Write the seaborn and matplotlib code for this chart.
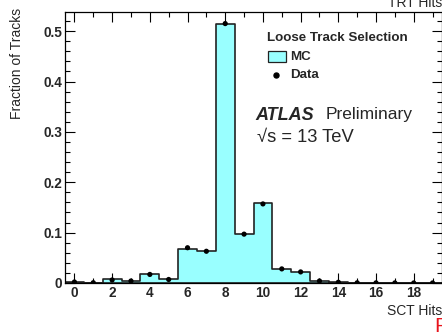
import numpy as np
import pandas as pd
import matplotlib
matplotlib.use("Agg")
import matplotlib.pyplot as plt
from matplotlib.patches import Rectangle
from matplotlib.ticker import MultipleLocator
import seaborn as sns

# Number of SCT hits per track (one bin per integer)
sct_hits = list(range(20))
# Simulated fraction of tracks in each bin
mc_fraction = [0.002, 0.0006, 0.007, 0.004, 0.017, 0.007, 0.068, 0.064, 0.514, 0.098,
               0.158, 0.028, 0.022, 0.004, 0.002, 0.0006, 0.0003, 0.0002, 0.0001, 0.0001]
# Measured fraction of tracks in each bin
data_fraction = [0.002, 0.0006, 0.006, 0.004, 0.017, 0.007, 0.070, 0.063, 0.515, 0.097,
                 0.157, 0.028, 0.022, 0.004, 0.0015, 0.0004, 0.0003, 0.0002, 0.0001, 0.0001]

x_ticks = [0, 2, 4, 6, 8, 10, 12, 14, 16, 18]
y_ticks = [0, 0.1, 0.2, 0.3, 0.4, 0.5]
y_tick_labels = ["0", "0.1", "0.2", "0.3", "0.4", "0.5"]

df = pd.DataFrame({"hits": sct_hits, "mc": mc_fraction, "data": data_fraction})

sns.set_theme(style="ticks")
plt.rcParams["font.family"] = ["Liberation Sans", "DejaVu Sans"]

W, H = 442, 332
fig = plt.figure(figsize=(W / 100, H / 100), dpi=100)


def fx(px):
    return px / W


def fy(py):
    return 1 - py / H


ax = fig.add_axes([fx(65), fy(283), fx(442) - fx(65), fy(12) - fy(283)])

fill_color = "#99ffff"
sns.histplot(data=df, x="hits", weights="mc", discrete=True, element="step",
             fill=True, color=fill_color, alpha=1.0, edgecolor="#222222",
             linewidth=1.2, ax=ax)
sns.scatterplot(data=df, x="hits", y="data", color="black", s=14,
                edgecolor="none", ax=ax, zorder=5)

ax.set_xlim(-0.5, 19.5)
ax.set_ylim(0, 0.538)
ax.xaxis.set_major_locator(MultipleLocator(2))
ax.xaxis.set_minor_locator(MultipleLocator(1))
ax.yaxis.set_minor_locator(MultipleLocator(0.02))
ax.set_xticks(x_ticks)
ax.set_yticks(y_ticks)
ax.set_yticklabels(y_tick_labels)
ax.tick_params(which="both", direction="in", top=True, right=True,
               color="black", width=0.8)
ax.tick_params(which="major", length=7, labelsize=9.8, pad=2)
ax.tick_params(which="minor", length=3.5)
for lab in ax.get_xticklabels() + ax.get_yticklabels():
    lab.set_fontweight("bold")
for sp in ax.spines.values():
    sp.set_color("black")
    sp.set_linewidth(0.9)

ax.set_xlabel("")
ax.set_ylabel("")
fig.text(fx(442), fy(311), "SCT Hits", ha="right", va="center", fontsize=10)
fig.text(fx(17), fy(63), "Fraction of Tracks", ha="center", va="center",
         rotation=90, fontsize=10)

# Legend block
fig.text(fx(267), fy(38), "Loose Track Selection", ha="left", va="center",
         fontsize=9.6, fontweight="bold")
fig.patches.append(Rectangle((fx(268), fy(62)), fx(286) - fx(268), fy(51) - fy(62),
                             transform=fig.transFigure, facecolor=fill_color,
                             edgecolor="#222222", linewidth=0.9))
fig.text(fx(290), fy(57), "MC", ha="left", va="center", fontsize=9.6, fontweight="bold")
fig.lines.append(plt.Line2D([fx(276)], [fy(75)], transform=fig.transFigure,
                            marker="o", markersize=3.6, color="black", linestyle="none"))
fig.text(fx(290), fy(75), "Data", ha="left", va="center", fontsize=9.6, fontweight="bold")

fig.text(fx(255), fy(115), "ATLAS", ha="left", va="center", fontsize=13,
         fontweight="bold", fontstyle="italic")
fig.text(fx(326), fy(115), "Preliminary", ha="left", va="center", fontsize=12.5)
fig.text(fx(257), fy(137), "√s = 13 TeV", ha="left", va="center", fontsize=13.2)

# Neighbouring panel labels at the page edges
fig.text(fx(442), fy(3), "TRT Hits", ha="right", va="center", fontsize=10)
fig.text(fx(434), fy(327), "F", ha="left", va="center", fontsize=15, color="#e8141c")

fig.savefig("out.png", dpi=100)
